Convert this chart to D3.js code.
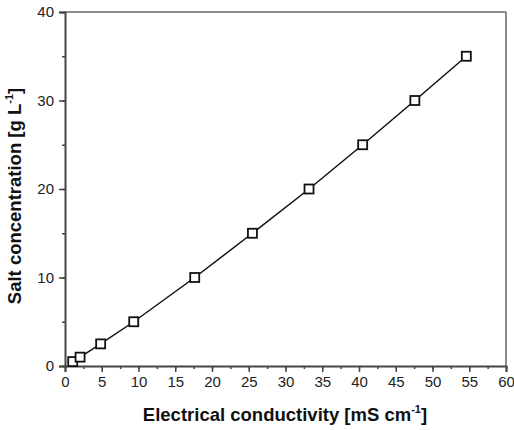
<!DOCTYPE html>
<html>
<head>
<meta charset="utf-8">
<script src="https://cdn.jsdelivr.net/npm/d3@7"></script>
<style>
body { margin: 0; background: #fff; }
svg text { font-family: "Liberation Sans", Arial, sans-serif; }
</style>
</head>
<body>
<script>
// conductivity (mS/cm) vs salt concentration (g/L)
var conductivity = [1.05, 2.05, 4.85, 9.35, 17.65, 25.5, 33.2, 40.5, 47.6, 54.6];
var saltConc = [0.5, 1, 2.5, 5, 10, 15, 20, 25, 30, 35];
var xTicks = [0, 5, 10, 15, 20, 25, 30, 35, 40, 45, 50, 55, 60];
var yTicks = [0, 10, 20, 30, 40];

var w = 514, h = 430;
var mLeft = 65, mRight = 506, mTop = 12, mBottom = 366;

var svg = d3.select("body").append("svg")
    .attr("width", w)
    .attr("height", h);

var x = d3.scaleLinear().domain([0, 60]).range([mLeft, mRight]);
var y = d3.scaleLinear().domain([0, 40]).range([mBottom, mTop]);

var axisColor = "#444";

// frame top/right
svg.append("line").attr("x1", mLeft).attr("x2", mRight).attr("y1", mTop).attr("y2", mTop)
    .style("stroke", "#666").style("stroke-width", 1.5);
svg.append("line").attr("x1", mRight).attr("x2", mRight).attr("y1", mTop).attr("y2", mBottom)
    .style("stroke", "#666").style("stroke-width", 1.5);

// minor ticks
var xMinor = d3.range(0, 60.1, 2.5);
var yMinor = d3.range(0, 40.1, 5);

svg.append("g").attr("transform", "translate(0," + mBottom + ")")
    .call(d3.axisBottom(x).tickValues(xMinor).tickSize(3).tickFormat(""))
    .selectAll("line").style("stroke", axisColor).style("stroke-width", 1.5);
var gx = svg.append("g").attr("transform", "translate(0," + mBottom + ")");
gx.call(d3.axisBottom(x).tickValues(xTicks).tickSize(6).tickPadding(4).tickFormat(d3.format("d")));
gx.selectAll("path.domain").style("stroke", axisColor).style("stroke-width", 2);
gx.selectAll("line").style("stroke", axisColor).style("stroke-width", 1.5);
gx.selectAll("text").style("font-size", "15px").style("fill", "#222");

svg.append("g").attr("transform", "translate(" + mLeft + ",0)")
    .call(d3.axisLeft(y).tickValues(yMinor).tickSize(3).tickFormat(""))
    .selectAll("line").style("stroke", axisColor).style("stroke-width", 1.5);
var gy = svg.append("g").attr("transform", "translate(" + mLeft + ",0)");
gy.call(d3.axisLeft(y).tickValues(yTicks).tickSize(6).tickPadding(5).tickFormat(d3.format("d")));
gy.selectAll("path.domain").style("stroke", axisColor).style("stroke-width", 2);
gy.selectAll("line").style("stroke", axisColor).style("stroke-width", 1.5);
gy.selectAll("text").style("font-size", "15px").style("fill", "#222");

var pts = conductivity.map(function(d, i) { return [d, saltConc[i]]; });

svg.append("path")
    .datum(pts)
    .attr("d", d3.line().x(function(d){ return x(d[0]); }).y(function(d){ return y(d[1]); }))
    .style("fill", "none")
    .style("stroke", "#111")
    .style("stroke-width", 1.5);

var s = 9;
svg.selectAll("rect.pt")
    .data(pts)
    .enter()
    .append("rect")
    .attr("class", "pt")
    .attr("x", function(d){ return x(d[0]) - s/2; })
    .attr("y", function(d){ return y(d[1]) - s/2; })
    .attr("width", s)
    .attr("height", s)
    .style("fill", "#fff")
    .style("stroke", "#111")
    .style("stroke-width", 1.8);

// axis titles
var xt = svg.append("text")
    .attr("x", 285)
    .attr("y", 421)
    .attr("text-anchor", "middle")
    .style("font-size", "18.5px")
    .style("font-weight", "bold")
    .style("fill", "#111");
xt.append("tspan").text("Electrical conductivity [mS cm");
xt.append("tspan").attr("dy", -8).style("font-size", "11px").text("-1");
xt.append("tspan").attr("dy", 8).text("]");

var yt = svg.append("text")
    .attr("transform", "translate(21,196) rotate(-90)")
    .attr("text-anchor", "middle")
    .style("font-size", "18.5px")
    .style("font-weight", "bold")
    .style("fill", "#111");
yt.append("tspan").text("Salt concentration [g L");
yt.append("tspan").attr("dy", -8).style("font-size", "11px").text("-1");
yt.append("tspan").attr("dy", 8).text("]");
</script>
</body>
</html>
